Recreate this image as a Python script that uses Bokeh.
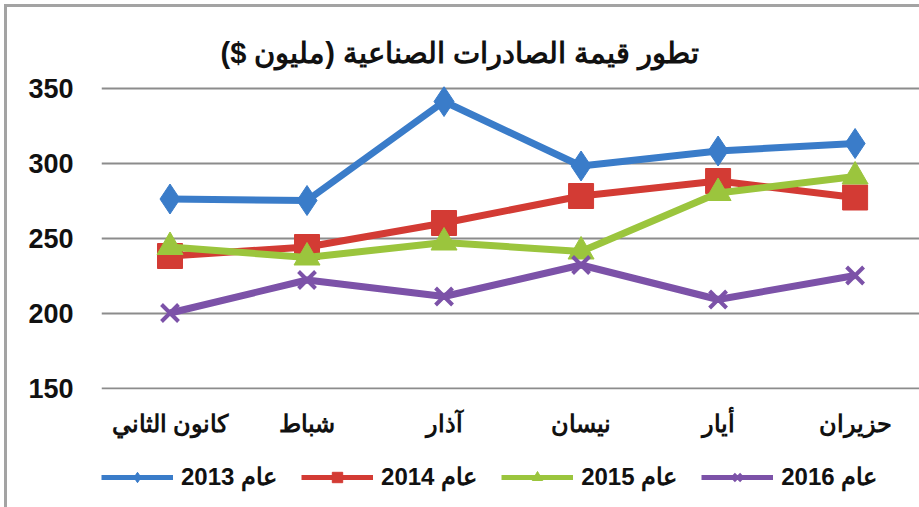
from bokeh.plotting import figure
from bokeh.layouts import column
from bokeh.models import Range1d, FixedTicker, Legend, LegendItem
from bokeh.embed import file_html
from bokeh.resources import INLINE

# ---- data ----
months = ["كانون الثاني", "شباط", "آذار", "نيسان", "أيار", "حزيران"]
v2013 = [276, 275, 341, 298, 308, 313]
v2014 = [238, 244, 260, 278, 288, 277]
v2015 = [244, 237, 247, 241, 280, 291]
v2016 = [200, 222, 211, 232, 209, 225]
series_names = ["عام 2013", "عام 2014", "عام 2015", "عام 2016"]
y_ticks = [150, 200, 250, 300, 350]
title_text = "تطور قيمة الصادرات الصناعية (مليون $)"

xs = list(range(len(months)))
FONT = "Liberation Sans"

p = figure(frame_width=818, frame_height=303, output_backend="svg", toolbar_location=None,
           x_range=Range1d(-0.5, 5.47), y_range=Range1d(149, 351),
           min_border_left=94, min_border_right=0, min_border_top=79,
           min_border_bottom=55, background_fill_color="white",
           border_fill_color="white", outline_line_color=None)

p.title.text = title_text + "\u200f"
p.title.align = "left"
p.title.text_font = FONT
p.title.text_font_style = "bold"
p.title.text_font_size = "29px"
p.title.text_color = "#111111"
p.title.offset = 119
p.title.standoff = 36

# axes
p.xaxis.ticker = FixedTicker(ticks=xs)
p.xaxis.major_label_overrides = {i: m for i, m in enumerate(months)}
p.yaxis.ticker = FixedTicker(ticks=y_ticks)
for ax in (p.xaxis[0], p.yaxis[0]):
    ax.axis_line_color = None
    ax.major_tick_line_color = None
    ax.minor_tick_line_color = None
    ax.major_label_text_font = FONT
    ax.major_label_text_font_style = "bold"
    ax.major_label_text_color = "#111111"
p.xaxis.major_label_text_font_size = "24px"
p.xaxis.major_label_standoff = 14
p.yaxis.major_label_text_font_size = "27px"
p.yaxis.major_label_standoff = 22

p.xgrid.grid_line_color = None
p.ygrid.ticker = FixedTicker(ticks=y_ticks)
p.ygrid.grid_line_color = "#8c8c8c"
p.ygrid.grid_line_width = 2

colors = ["#3a7cc9", "#d33b34", "#9bc53d", "#7c52a8"]
data = [v2013, v2014, v2015, v2016]
markers = ["diamond", "square", "triangle", "x"]
sizes = [30, 25, 26, 24]

for vals, c, m, s in zip(data, colors, markers, sizes):
    p.line(xs, vals, line_color=c, line_width=7)
    if m == "x":
        p.scatter(xs, vals, marker=m, size=s, line_color=c, line_width=4)
    else:
        p.scatter(xs, vals, marker=m, size=s, fill_color=c, line_color=c)

# legend strip (separate figure so the legend is not clipped by the plot frame)
lf = figure(width=912, height=63, output_backend="svg", toolbar_location=None,
            x_range=Range1d(0, 1), y_range=Range1d(0, 1),
            x_axis_type=None, y_axis_type=None,
            min_border_left=0, min_border_right=0, min_border_top=0, min_border_bottom=0,
            background_fill_color="white", border_fill_color="white",
            outline_line_color=None)
lf.xgrid.grid_line_color = None
lf.ygrid.grid_line_color = None

items = []
for vals, c, m, name in zip(data, colors, markers, series_names):
    # same series, drawn outside this strip's visible range; used only as legend glyphs
    r1 = lf.line(xs, vals, line_color=c, line_width=5)
    if m == "x":
        r2 = lf.scatter(xs, vals, marker=m, size=12, line_color=c, line_width=3)
    else:
        r2 = lf.scatter(xs, vals, marker=m, size=12, fill_color=c, line_color=c)
    items.append(LegendItem(label=name, renderers=[r1, r2]))

legend = Legend(items=items, orientation="horizontal", location=(0, 16),
                label_text_font=FONT, label_text_font_style="bold",
                label_text_font_size="24px", label_text_color="#111111",
                glyph_width=72, glyph_height=26, label_standoff=8, spacing=24,
                padding=0, margin=0, border_line_color=None,
                background_fill_alpha=0)
lf.add_layout(legend, "center")

layout = column(p, lf, spacing=0,
                styles={"border-left": "3px solid #a3a3a3", "border-top": "3px solid #a3a3a3",
                        "margin-left": "4px", "margin-top": "4px"})

open("out.html", "w").write(file_html(layout, INLINE))
